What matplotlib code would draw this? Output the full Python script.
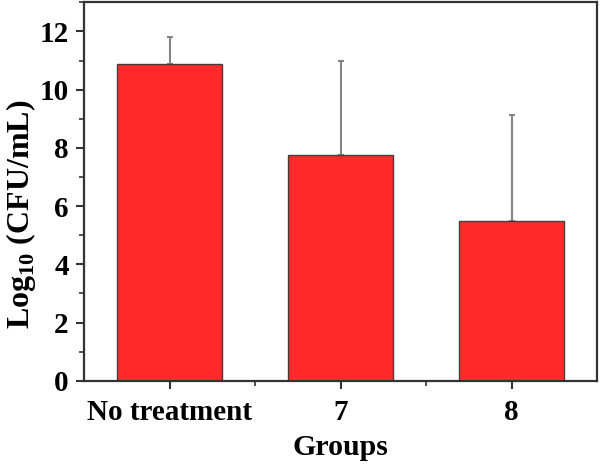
import matplotlib
matplotlib.use('Agg')
import matplotlib.pyplot as plt
from matplotlib.ticker import MultipleLocator, FixedLocator

groups = ['No treatment', '7', '8']
log_cfu = [10.89, 7.75, 5.49]
err_up = [0.91, 3.23, 3.65]

plt.rcParams['font.family'] = 'Liberation Serif'
plt.rcParams['font.weight'] = 'bold'
plt.rcParams['mathtext.fontset'] = 'custom'
plt.rcParams['mathtext.rm'] = 'Liberation Serif:bold'
plt.rcParams['mathtext.bf'] = 'Liberation Serif:bold'

fig = plt.figure(figsize=(6.0, 4.65), dpi=100)
ax = fig.add_axes([0.14, 0.181, 0.855, 0.814])

x = [1, 2, 3]
ax.bar(x, log_cfu, width=0.61, color='#ff2b2b', edgecolor='#4a3a3a', linewidth=1.0, zorder=2)
ax.errorbar(x, log_cfu, yerr=[[0, 0, 0], err_up], fmt='none', ecolor='#858585',
            elinewidth=1.5, capsize=2.5, capthick=1.5, zorder=1)

ax.set_xlim(0.5, 3.5)
ax.set_ylim(0, 13)
ax.set_xticks(x)
ax.set_xticklabels(groups)
ax.xaxis.set_minor_locator(FixedLocator([1.5, 2.5]))
ax.yaxis.set_major_locator(MultipleLocator(2))
ax.yaxis.set_minor_locator(MultipleLocator(1))

ax.tick_params(which='major', direction='out', length=6, width=1.5, labelsize=21, color='#333333', pad=5)
ax.tick_params(which='minor', direction='out', length=3.5, width=1.2, color='#333333')
ax.tick_params(axis='x', which='major', pad=7)
for s in ax.spines.values():
    s.set_linewidth(1.6)
    s.set_color('#333333')

ax.set_xlabel('Groups', fontsize=21.5, fontweight='bold', labelpad=6)
ax.set_ylabel(r'Log$_{\mathbf{10}}$ (CFU/mL)', fontsize=23, fontweight='bold')
ax.yaxis.set_label_coords(-0.09, 0.44)

fig.savefig('out.png', dpi=100)
